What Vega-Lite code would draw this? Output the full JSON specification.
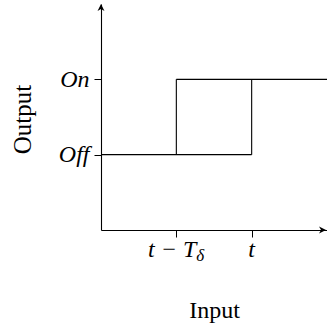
{
  "$schema": "https://vega.github.io/schema/vega-lite/v6.json",
  "width": 226,
  "height": 226,
  "autosize": {"type": "none"},
  "padding": {"left": 101, "top": 4, "right": 0, "bottom": 94},
  "background": "white",
  "config": {"view": {"stroke": null}},
  "layer": [
    {
      "data": {"values": [
        {"x": 0, "x2": 2, "y": 1, "y2": 1},
        {"x": 1, "x2": 3, "y": 2, "y2": 2},
        {"x": 1, "x2": 1, "y": 1, "y2": 2},
        {"x": 2, "x2": 2, "y": 1, "y2": 2}
      ]},
      "mark": {"type": "rule", "color": "black", "strokeWidth": 1.1},
      "encoding": {
        "x": {
          "field": "x", "type": "quantitative",
          "scale": {"domain": [0, 3], "nice": false, "zero": false},
          "axis": {
            "values": [1, 2], "labels": false, "grid": false,
            "domainColor": "black", "domainWidth": 1.1, "tickColor": "black", "tickWidth": 1, "tickSize": 7,
            "title": "Input", "titleFont": "Liberation Serif", "titleFontSize": 24, "titleFontWeight": "normal",
            "titleColor": "black", "titleX": 113, "titleY": 87, "titleAlign": "center", "titleBaseline": "alphabetic"
          }
        },
        "x2": {"field": "x2"},
        "y": {
          "field": "y", "type": "quantitative",
          "scale": {"domain": [0, 3], "nice": false, "zero": false},
          "axis": {
            "values": [1, 2], "grid": false,
            "labelExpr": "datum.value == 1 ? 'Off' : 'On'",
            "labelFont": "Liberation Serif", "labelFontStyle": "italic", "labelFontSize": 24, "labelColor": "black",
            "labelPadding": 5, "labelBaseline": "middle",
            "domainColor": "black", "domainWidth": 1.1, "tickColor": "black", "tickWidth": 1, "tickSize": 7,
            "title": "Output", "titleFont": "Liberation Serif", "titleFontSize": 25, "titleFontWeight": "normal",
            "titleColor": "black", "titleX": -71, "titleY": 115, "titleAngle": 270, "titleAlign": "center", "titleBaseline": "alphabetic"
          }
        },
        "y2": {"field": "y2"}
      }
    },
    {
      "data": {"values": [
        {"x": 3, "y": 0, "dir": "right"}
      ]},
      "mark": {"type": "point", "filled": true, "color": "black", "opacity": 1, "size": 196, "strokeWidth": 0,
               "shape": "M-0.14,0 L-1.14,-0.5 L-0.85,0 L-1.14,0.5 Z"},
      "encoding": {
        "x": {"field": "x", "type": "quantitative"},
        "y": {"field": "y", "type": "quantitative"}
      }
    },
    {
      "data": {"values": [
        {"x": 0, "y": 3, "dir": "up"}
      ]},
      "mark": {"type": "point", "filled": true, "color": "black", "opacity": 1, "size": 196, "strokeWidth": 0,
               "shape": "M0,0 L-0.5,1 L0,0.72 L0.5,1 Z"},
      "encoding": {
        "x": {"field": "x", "type": "quantitative"},
        "y": {"field": "y", "type": "quantitative"}
      }
    },
    {
      "data": {"values": [
        {"x": 1, "y": 0, "label": "t − T"}
      ]},
      "mark": {"type": "text", "font": "Liberation Serif", "fontStyle": "italic", "fontSize": 24, "color": "black",
               "align": "right", "baseline": "alphabetic", "dx": 20, "dy": 27},
      "encoding": {
        "x": {"field": "x", "type": "quantitative"},
        "y": {"field": "y", "type": "quantitative"},
        "text": {"field": "label"}
      }
    },
    {
      "data": {"values": [
        {"x": 1, "y": 0, "label": "δ"}
      ]},
      "mark": {"type": "text", "font": "Liberation Serif", "fontStyle": "italic", "fontSize": 17, "color": "black",
               "align": "left", "baseline": "alphabetic", "dx": 20, "dy": 31},
      "encoding": {
        "x": {"field": "x", "type": "quantitative"},
        "y": {"field": "y", "type": "quantitative"},
        "text": {"field": "label"}
      }
    },
    {
      "data": {"values": [
        {"x": 2, "y": 0, "label": "t"}
      ]},
      "mark": {"type": "text", "font": "Liberation Serif", "fontStyle": "italic", "fontSize": 24, "color": "black",
               "align": "center", "baseline": "alphabetic", "dy": 27},
      "encoding": {
        "x": {"field": "x", "type": "quantitative"},
        "y": {"field": "y", "type": "quantitative"},
        "text": {"field": "label"}
      }
    }
  ]
}
